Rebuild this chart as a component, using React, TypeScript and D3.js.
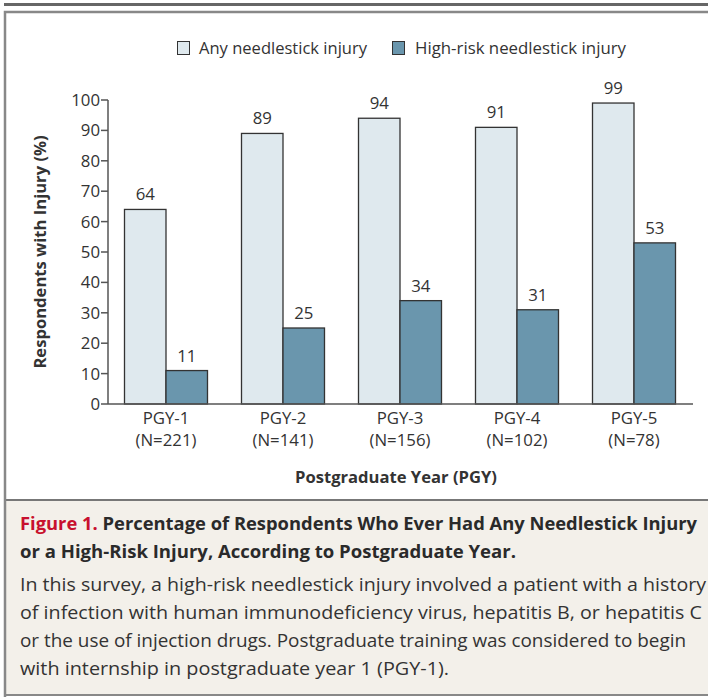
import React from 'react';
import * as d3 from 'd3';

const categories = ['PGY-1', 'PGY-2', 'PGY-3', 'PGY-4', 'PGY-5'];
const sampleSizes = ['(N=221)', '(N=141)', '(N=156)', '(N=102)', '(N=78)'];
const anyInjury = [64, 89, 94, 91, 99];
const highRisk = [11, 25, 34, 31, 53];
const yTicks = [0, 10, 20, 30, 40, 50, 60, 70, 80, 90, 100];
const seriesNames = ['Any needlestick injury', 'High-risk needlestick injury'];

const captionTitle = [
  'Percentage of Respondents Who Ever Had Any Needlestick Injury',
  'or a High-Risk Injury, According to Postgraduate Year.',
];
const captionBody = [
  'In this survey, a high-risk needlestick injury involved a patient with a history',
  'of infection with human immunodeficiency virus, hepatitis B, or hepatitis C',
  'or the use of injection drugs. Postgraduate training was considered to begin',
  'with internship in postgraduate year 1 (PGY-1).',
];

const W = 708;
const H = 697;
const font = "'Open Sans', sans-serif";
const lightFill = '#dfe9ee';
const darkFill = '#6a96ad';
const ink = '#333';

const App = () => {
  const x0 = 108;
  const x1 = 693;
  const y = d3.scaleLinear().domain([0, 100]).range([404, 100]);
  const x = d3.scaleBand().domain(categories).range([107.5, 692.5]);
  const barW = 41.5;
  const fs = 16.8;

  return (
    <svg width={W} height={H} style={{ position: 'absolute', left: 0, top: 0 }} fontFamily={font}>
      <rect x={0} y={0} width={W} height={H} fill="#fff" />
      <line x1={4} x2={W} y1={4.5} y2={4.5} stroke="#666" strokeWidth={3} />
      <rect x={5} y={500} width={W} height={195} fill="#f3f0ea" />
      <line x1={5} x2={W} y1={500} y2={500} stroke="#777" strokeWidth={2} />
      <path d={`M5,${H} V12 H${W}`} fill="none" stroke="#888" strokeWidth={2.5} />
      <line x1={5} x2={W} y1={695} y2={695} stroke="#888" strokeWidth={2} />

      {/* legend */}
      <g fontSize={16.8} fill={ink}>
        <rect x={177.5} y={41.5} width={12} height={13} fill={lightFill} stroke={ink} />
        <text x={199} y={54} textLength={168} lengthAdjust="spacingAndGlyphs">{seriesNames[0]}</text>
        <rect x={392.5} y={41.5} width={12} height={13} fill={darkFill} stroke={ink} />
        <text x={415} y={54} textLength={211} lengthAdjust="spacingAndGlyphs">{seriesNames[1]}</text>
      </g>

      {/* bars */}
      {categories.map((c, i) => {
        const cx = (x(c) as number) + x.bandwidth() / 2;
        return (
          <g key={c}>
            <rect x={cx - barW} y={y(anyInjury[i])} width={barW} height={y(0) - y(anyInjury[i])}
              fill={lightFill} stroke={ink} strokeWidth={1.3} />
            <rect x={cx} y={y(highRisk[i])} width={barW} height={y(0) - y(highRisk[i])}
              fill={darkFill} stroke={ink} strokeWidth={1.3} />
            <text x={cx - barW / 2} y={y(anyInjury[i]) - 9} textAnchor="middle" fontSize={fs} fill={ink}>
              {anyInjury[i]}
            </text>
            <text x={cx + barW / 2} y={y(highRisk[i]) - 9} textAnchor="middle" fontSize={fs} fill={ink}>
              {highRisk[i]}
            </text>
            <text x={cx} y={424} textAnchor="middle" fontSize={fs} fill={ink}>{c}</text>
            <text x={cx} y={446} textAnchor="middle" fontSize={fs} fill={ink}>{sampleSizes[i]}</text>
          </g>
        );
      })}

      {/* axes */}
      <g stroke="#555" strokeWidth={1.5}>
        <line x1={x0} x2={x0} y1={y(100)} y2={y(0)} />
        <line x1={x0} x2={x1} y1={y(0)} y2={y(0)} />
        {yTicks.map((t) => (
          <line key={t} x1={x0 - 7} x2={x0} y1={y(t)} y2={y(t)} />
        ))}
      </g>
      <g fontSize={fs} fill={ink} textAnchor="end">
        {yTicks.map((t) => (
          <text key={t} x={x0 - 8} y={y(t) + 6}>{t}</text>
        ))}
      </g>
      <text transform="translate(46,252) rotate(-90)" textAnchor="middle" fontSize={16.6} fontWeight="bold" fill={ink}>
        Respondents with Injury (%)
      </text>
      <text x={396} y={483} textAnchor="middle" fontSize={16.6} fontWeight="bold" fill={ink}>
        Postgraduate Year (PGY)
      </text>

      {/* caption */}
      <g fontSize={18} fontWeight="bold" fill="#2a2a2a">
        <text x={20} y={530} textLength={677} lengthAdjust="spacingAndGlyphs">
          <tspan fill="#c8102e">Figure 1. </tspan>
          {captionTitle[0]}
        </text>
        <text x={20} y={558} textLength={496} lengthAdjust="spacingAndGlyphs">{captionTitle[1]}</text>
      </g>
      <g fontSize={17.5} fill="#333">
        {captionBody.map((l, i) => (
          <text key={i} x={20} y={591 + i * 28} textLength={[686, 682, 666, 429][i]} lengthAdjust="spacingAndGlyphs">
            {l}
          </text>
        ))}
      </g>
    </svg>
  );
};

export default App;
